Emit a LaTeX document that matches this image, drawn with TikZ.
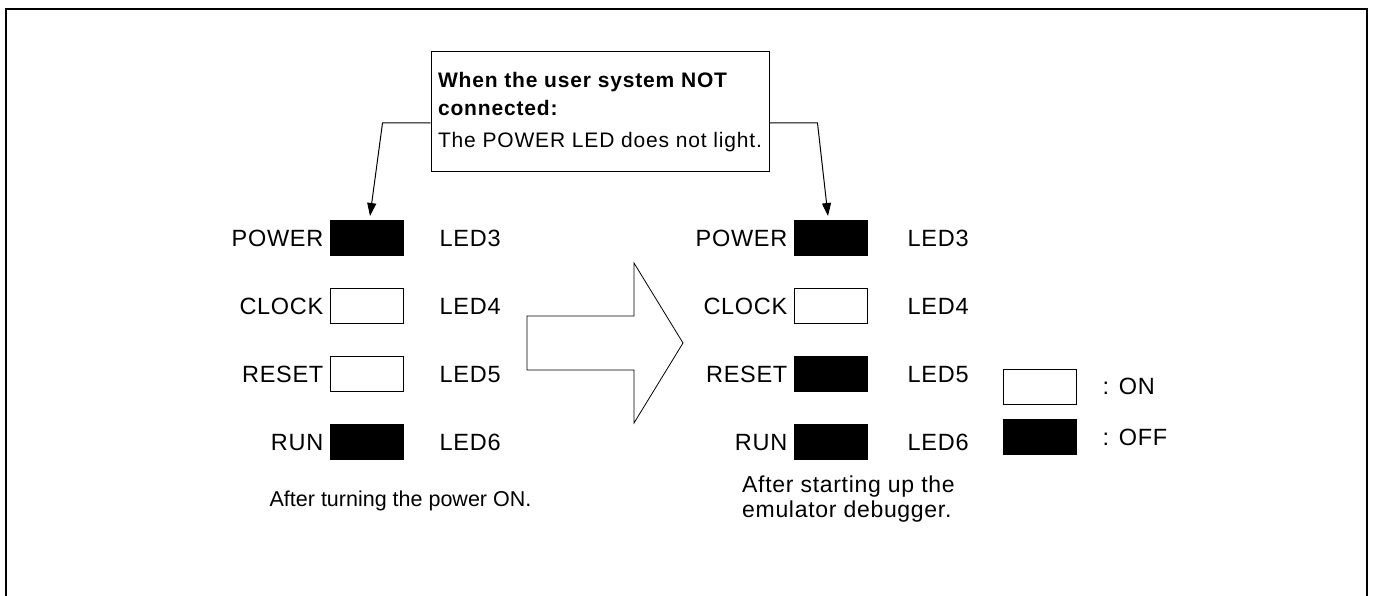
\documentclass[tikz,border=0pt]{standalone}
\usepackage{fontspec}
\setmainfont{Liberation Sans}
\newfontfamily\ledfont[LetterSpace=3]{Liberation Sans}
\newfontfamily\notefont[LetterSpace=4]{Liberation Sans}
\usetikzlibrary{arrows.meta,positioning}

\tikzset{
  lamp/.style={draw, line width=1pt, minimum width=73pt, minimum height=35pt, inner sep=0pt},
  lampon/.style={lamp, fill=white},
  lampoff/.style={lamp, fill=black},
  lbl/.style={font=\ledfont\fontsize{23.5}{27}\selectfont, inner sep=0pt, text height=16.8pt, text depth=0pt},
  captxt/.style={inner sep=0pt, align=left},
  notebox/.style={draw, line width=1pt, minimum width=338pt, minimum height=120pt, align=left,
    inner sep=0pt, font=\notefont\fontsize{21}{28}\selectfont},
}

\begin{document}
\begin{tikzpicture}[>={Triangle[length=13pt,width=9pt]}, x=1pt, y=-1pt]
\useasboundingbox (0,0) rectangle (1375,596);
\draw[line width=2pt] (6,596) -- (6,9) -- (1367,9) -- (1367,596);

% after power on
\foreach \i/\name/\st/\y/\led in {1/POWER/lampoff/238/3, 2/CLOCK/lampon/306/4, 3/RESET/lampon/374/5, 4/RUN/lampoff/442/6} {
  \node[\st] (a\i) at (366.5,\y) {};
  \node[lbl, left=6pt of a\i] (an\i) {\name};
  \node[lbl, right=36pt of a\i] (al\i) {LED\led};
}
\node[captxt, font=\fontsize{21.5}{25}\selectfont] (capa) at (400.5,501) {After turning the power ON.};

% after debugger start
\foreach \i/\name/\st/\y/\led in {1/POWER/lampoff/238/3, 2/CLOCK/lampon/306/4, 3/RESET/lampoff/374/5, 4/RUN/lampoff/442/6} {
  \node[\st] (b\i) at (830.5,\y) {};
  \node[lbl, left=6pt of b\i] (bn\i) {\name};
  \node[lbl, right=40pt of b\i] (bl\i) {LED\led};
}
\node[captxt, anchor=north west, font=\ledfont\fontsize{23}{25}\selectfont] (capb) at (742,476) {After starting up the\\emulator debugger.};

% big arrow
\draw[line width=0.8pt] (527,316) -- (634,316) -- (634,263) -- (683,343) -- (634,423) -- (634,370) -- (527,370) -- cycle;

% legend
\node[lampon] (kon) at (1039.5,386.5) {};
\node[lampoff] (koff) at (1039.5,437) {};
\node[lbl, right=26pt of kon] (kont) {: ON};
\node[lbl, right=26pt of koff] (kofft) {: OFF};

% note
\node[notebox] (note) at (600,112) {\textbf{When the user system NOT}\\\textbf{connected:}\\[4pt]The POWER LED does not light.};
\draw[->, line width=1pt] ([yshift=-11pt]note.west) -- ++(-48,0) -- ([xshift=3.5pt,yshift=4pt]a1.north);
\draw[->, line width=1pt] ([yshift=-11pt]note.east) -- ++(48,0) -- ([xshift=-2.5pt,yshift=4pt]b1.north);
\end{tikzpicture}
\end{document}
